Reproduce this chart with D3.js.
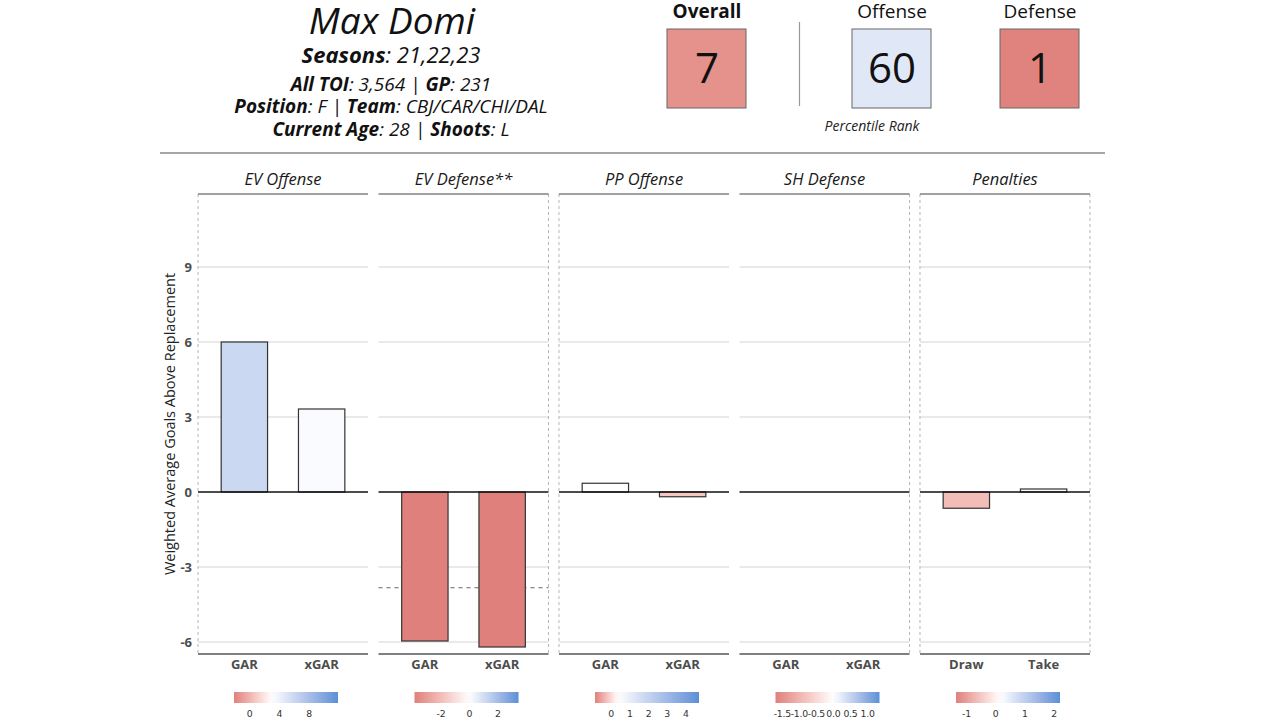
<!DOCTYPE html>
<html>
<head>
<meta charset="utf-8">
<script src="https://cdn.jsdelivr.net/npm/d3@7"></script>
<style>
  body { margin: 0; background: #fff; }
  svg { display: block; font-family: "Open Sans", sans-serif; }
</style>
</head>
<body>
<svg id="chart" width="1280" height="720"></svg>
<script>
// ---- data ----
const panels = ["EV Offense", "EV Defense**", "PP Offense", "SH Defense", "Penalties"]
const barLabels = [["GAR", "xGAR"], ["GAR", "xGAR"], ["GAR", "xGAR"], ["GAR", "xGAR"], ["Draw", "Take"]]
const barValues = [[6.0, 3.32], [-5.96, -6.2], [0.35, -0.19], [0.0, 0.0], [-0.65, 0.12]]
// low, mid (white), high of each panel's fill scale
const colorDomains = [[-2.1, 3.0, 11.9], [-3.87, 0, 3.46], [-0.86, 0.35, 4.7], [-1.7, 0, 1.35], [-1.36, 0.15, 2.2]]
const legendTicks = [[0, 4, 8], [-2, 0, 2], [0, 1, 2, 3, 4], [-1.5, -1.0, -0.5, 0.0, 0.5, 1.0], [-1, 0, 1, 2]]
const legendDigits = [0, 0, 0, 1, 0]
const refLines = [null, -3.83, null, null, null]
const vLines = [[0.4], [2.6], [0.4], [2.6], [0.4, 2.6]]
const yTicks = [-6, -3, 0, 3, 6, 9]
const yDomain = [-6.48, 11.92]

const playerName = "Max Domi"
const infoLines = [
  [["Seasons", ": 21,22,23"]],
  [["All TOI", ": 3,564 | "], ["GP", ": 231"]],
  [["Position", ": F | "], ["Team", ": CBJ/CAR/CHI/DAL"]],
  [["Current Age", ": 28 | "], ["Shoots", ": L"]]
]
const rankLabels = ["Overall", "Offense", "Defense"]
const rankValues = [7, 60, 1]

// ---- layout ----
const RED = "#df807c", BLUE = "#5b8fd6"
const svg = d3.select("#chart")
const plotTop = 194, plotBottom = 654

const y = d3.scaleLinear().domain(yDomain).range([plotBottom, plotTop])
const xPanel = d3.scaleBand().domain(panels).range([198, 1090]).paddingInner(0.058)
const xBar = d3.scaleLinear().domain([0.4, 2.6]).range([0, xPanel.bandwidth()])

function fillScale(dom){
  return d3.scaleLinear().domain(dom).range([RED, "#ffffff", BLUE])
    .interpolate(d3.interpolateLab).clamp(true)
}

// ---- header ----
const head = svg.append("g")
head.append("text")
  .attr("x", 392).attr("y", 34)
  .attr("text-anchor", "middle")
  .attr("font-size", 37).attr("font-style", "italic")
  .attr("fill", "#111")
  .text(playerName)

const lineY = [63, 91, 113, 136]
const lineSize = [22, 19, 19, 19]
infoLines.forEach((parts, i) => {
  const t = head.append("text")
    .attr("x", 391).attr("y", lineY[i])
    .attr("text-anchor", "middle")
    .attr("font-size", lineSize[i]).attr("font-style", "italic")
    .attr("fill", "#111")
  parts.forEach(p => {
    t.append("tspan").attr("font-weight", 700).text(p[0])
    t.append("tspan").text(p[1])
  })
})

const rankScale = fillScale([0, 50, 100])
const rankX = [707, 892, 1040]
rankLabels.forEach((lab, i) => {
  head.append("text")
    .attr("x", rankX[i]).attr("y", 18)
    .attr("text-anchor", "middle")
    .attr("font-size", 19)
    .attr("font-weight", i == 0 ? 700 : 400)
    .attr("fill", "#111")
    .text(lab)
  head.append("rect")
    .attr("x", rankX[i] - 40).attr("y", 29)
    .attr("width", 79).attr("height", 79)
    .attr("fill", rankScale(rankValues[i]))
    .attr("stroke", "#666").attr("stroke-width", 1)
  head.append("text")
    .attr("x", rankX[i]).attr("y", 83)
    .attr("text-anchor", "middle")
    .attr("font-size", 42)
    .attr("fill", "#111")
    .text(rankValues[i])
})
head.append("line")
  .attr("x1", 799.5).attr("x2", 799.5).attr("y1", 22).attr("y2", 106)
  .attr("stroke", "#999").attr("stroke-width", 1.2)
head.append("text")
  .attr("x", 872).attr("y", 131)
  .attr("text-anchor", "middle")
  .attr("font-size", 14).attr("font-style", "italic")
  .attr("fill", "#222")
  .text("Percentile Rank")
head.append("line")
  .attr("x1", 160).attr("x2", 1105).attr("y1", 153).attr("y2", 153)
  .attr("stroke", "#888").attr("stroke-width", 1.5)

// ---- y axis ----
svg.append("g")
  .attr("transform", "translate(192,0)")
  .call(d3.axisLeft(y).tickValues(yTicks).tickSize(0).tickPadding(0).tickFormat(d => String(d)))
  .call(g => g.select(".domain").remove())
  .call(g => g.selectAll("text")
    .attr("font-family", "Open Sans").attr("font-size", 13)
    .attr("font-weight", 700).attr("fill", "#4d4d4d"))

svg.append("text")
  .attr("transform", "translate(170," + ((plotTop + plotBottom) / 2) + ") rotate(-90)")
  .attr("text-anchor", "middle")
  .attr("dy", "0.35em")
  .attr("font-size", 14.5)
  .attr("fill", "#222")
  .text("Weighted Average Goals Above Replacement")

// ---- panels ----
panels.forEach((name, i) => {
  const g = svg.append("g").attr("transform", "translate(" + xPanel(name) + ",0)")
  const w = xPanel.bandwidth()
  const color = fillScale(colorDomains[i])

  g.selectAll("line.grid")
    .data(yTicks.filter(v => v != 0))
    .join("line")
    .attr("class", "grid")
    .attr("x1", 0).attr("x2", w)
    .attr("y1", d => y(d)).attr("y2", d => y(d))
    .attr("stroke", "#d4d4d4").attr("stroke-width", 1)

  g.selectAll("line.vl")
    .data(vLines[i])
    .join("line")
    .attr("class", "vl")
    .attr("x1", d => xBar(d)).attr("x2", d => xBar(d))
    .attr("y1", plotTop).attr("y2", plotBottom)
    .attr("stroke", "#b5b5b5").attr("stroke-width", 1)
    .attr("stroke-dasharray", "3,3")

  if(refLines[i] != null){
    g.append("line")
      .attr("x1", 0).attr("x2", w)
      .attr("y1", y(refLines[i])).attr("y2", y(refLines[i]))
      .attr("stroke", "#666").attr("stroke-width", 1.2)
      .attr("stroke-dasharray", "4,4")
  }

  g.selectAll("rect.bar")
    .data(barValues[i])
    .join("rect")
    .attr("class", "bar")
    .attr("x", (d, j) => xBar(j + 1 - 0.3))
    .attr("width", xBar(1.3) - xBar(0.7))
    .attr("y", d => y(Math.max(0, d)))
    .attr("height", d => Math.abs(y(d) - y(0)))
    .attr("fill", d => color(d))
    .attr("stroke", "#333").attr("stroke-width", 1.2)

  g.append("line")
    .attr("x1", 0).attr("x2", w).attr("y1", y(0)).attr("y2", y(0))
    .attr("stroke", "#111").attr("stroke-width", 1.4)

  // strip
  g.append("text")
    .attr("x", w / 2).attr("y", 185)
    .attr("text-anchor", "middle")
    .attr("font-size", 16.5).attr("font-style", "italic")
    .attr("fill", "#1a1a1a")
    .text(name)
  g.append("line")
    .attr("x1", 0).attr("x2", w).attr("y1", plotTop).attr("y2", plotTop)
    .attr("stroke", "#444").attr("stroke-width", 1)
  g.append("line")
    .attr("x1", 0).attr("x2", w).attr("y1", plotBottom).attr("y2", plotBottom)
    .attr("stroke", "#555").attr("stroke-width", 1.3)

  g.selectAll("text.xl")
    .data(barLabels[i])
    .join("text")
    .attr("class", "xl")
    .attr("x", (d, j) => xBar(j + 1))
    .attr("y", 669)
    .attr("text-anchor", "middle")
    .attr("font-size", 13).attr("font-weight", 700)
    .attr("fill", "#4d4d4d")
    .text(d => d)

  // colour bar legend
  const lw = 104, lx = w / 2 + 3 - lw / 2
  const lDom = colorDomains[i]
  const lScale = d3.scaleLinear().domain([lDom[0], lDom[2]]).range([lx, lx + lw])
  const gradId = "grad" + i
  const grad = svg.append("defs").append("linearGradient").attr("id", gradId)
  d3.range(21).forEach(k => {
    const v = lDom[0] + (lDom[2] - lDom[0]) * k / 20
    grad.append("stop").attr("offset", (k * 5) + "%").attr("stop-color", color(v))
  })
  g.append("rect")
    .attr("x", lx).attr("y", 692)
    .attr("width", lw).attr("height", 11)
    .attr("fill", "url(#" + gradId + ")")
  g.selectAll("text.lt")
    .data(legendTicks[i])
    .join("text")
    .attr("class", "lt")
    .attr("x", d => lScale(d))
    .attr("y", 717)
    .attr("text-anchor", "middle")
    .attr("font-family", "DejaVu Sans")
    .attr("font-size", 9.3)
    .attr("letter-spacing", -0.2)
    .attr("fill", "#333")
    .text(d => d.toFixed(legendDigits[i]))
})
</script>
</body>
</html>
